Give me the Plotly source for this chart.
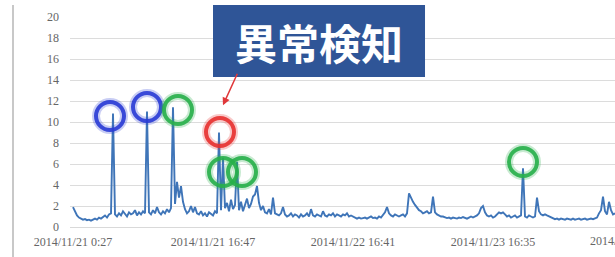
import plotly.graph_objects as go

# ---- data ----
values = [
    1.9, 1.4, 1.1, 0.9, 0.8, 0.7, 0.75, 0.65, 0.7, 0.6,
    0.7, 0.8, 0.7, 0.9, 0.8, 1.0, 1.1, 0.9, 1.2, 1.3,
    10.8, 1.2, 1.0, 1.3, 1.1, 1.5, 1.2, 1.0, 1.4, 1.2,
    1.3, 1.6, 1.1, 1.4, 1.2, 1.5, 1.3, 11.0, 1.4, 1.2,
    1.6, 1.3, 1.9, 1.4, 1.2, 1.5, 1.3, 1.7, 1.4, 1.8,
    11.4, 2.2, 4.3, 2.8, 3.9, 2.4, 1.7, 1.3, 1.5, 2.0,
    1.4, 1.9, 1.3, 1.2, 1.5, 1.1, 1.3, 1.0, 1.4, 1.2,
    1.1, 1.5, 1.3, 9.0, 1.6, 6.6, 1.8, 2.3, 1.5, 2.6,
    1.7, 2.1, 6.2, 1.6, 2.4, 1.5, 2.0, 2.7, 1.8, 2.2,
    2.9, 3.1, 3.9, 2.3, 1.6, 2.0, 1.4, 1.3, 1.7, 1.2,
    2.8, 1.3, 1.2, 1.1, 1.3, 1.9, 1.2, 1.0, 1.1, 1.3,
    1.0, 1.2, 1.1, 0.9, 1.2, 1.0, 1.1, 1.3, 1.0, 1.7,
    1.1, 1.0, 1.2, 1.1, 1.0, 1.5, 1.1, 1.0, 1.2, 1.1,
    1.3, 1.0, 1.2, 1.1, 1.0, 1.2, 1.1, 1.3, 1.0, 1.1,
    1.0, 0.9, 0.8, 0.9, 0.8, 0.85, 0.9, 0.8, 0.9, 1.0,
    0.85, 0.9, 0.8, 1.0, 0.9, 1.1, 1.4, 1.9, 1.3, 1.1,
    1.0, 1.2, 1.1, 1.0, 1.1, 1.2, 1.0, 1.3, 3.2, 2.7,
    2.4, 2.1, 1.8, 1.6, 1.5, 1.3, 1.4, 1.5, 1.3, 1.4,
    2.9, 1.4, 1.2, 1.1, 1.0, 1.0, 0.9, 0.85, 0.9, 0.8,
    0.9, 0.85, 0.8, 0.9, 0.85, 0.95, 0.9, 0.8, 0.9, 1.0,
    0.9, 1.0, 1.1, 1.3, 1.8, 2.0, 1.4, 1.1, 1.0, 1.1,
    0.9, 1.0, 1.2, 1.4, 1.3, 1.4, 1.2, 1.0, 1.1, 0.9,
    1.0, 1.1, 0.9, 1.0, 1.1, 5.6, 1.0, 0.9, 1.1, 1.0,
    0.9, 1.0, 2.8, 1.5, 1.2, 1.1, 1.2, 1.1, 1.0, 0.9,
    0.8, 0.75, 0.8, 0.7, 0.8, 0.75, 0.7, 0.8, 0.75, 0.7,
    0.8, 0.7, 0.75, 0.8, 0.7, 0.75, 0.8, 0.7, 0.75, 0.8,
    0.75, 0.8, 0.9, 1.3, 1.6, 2.9, 1.5, 1.2, 2.4, 1.6,
    1.2, 1.3,
]
sample_index = list(range(len(values)))

tick_index = [0, 70, 140, 210, 280]
tick_labels = ["2014/11/21 0:27", "2014/11/21 16:47", "2014/11/22 16:41",
               "2014/11/23 16:35", "2014/11/24 16:29"]

# anomaly markers (circle centres in sample index / value units)
anomaly_x = [18.5, 37, 52.5, 73.5, 75, 84.5, 225]
anomaly_y = [10.57, 11.43, 11.14, 9.05, 5.24, 5.24, 6.19]
anomaly_color = ["#2a3bd6", "#2a3bd6", "#27b04a", "#e8312f", "#27b04a", "#27b04a", "#27b04a"]

title_text = "異常検知"
arrow_tip = (75, 11.6)

x_min, x_max = -1.5, 271
y_min, y_max = 0, 20

fig = go.Figure()
fig.add_trace(go.Scatter(
    x=sample_index, y=values, mode="lines",
    line=dict(color="#3f75b8", width=1.9),
    hoverinfo="skip",
))

label_font = dict(family="Liberation Serif", size=12, color="#666666")

fig.update_layout(
    width=615, height=257, autosize=False,
    margin=dict(l=70, r=0, t=17, b=30, pad=0),
    plot_bgcolor="white", paper_bgcolor="white",
    showlegend=False,
    xaxis=dict(
        range=[x_min, x_max], tickvals=tick_index[:4], ticktext=tick_labels[:4],
        showgrid=False, zeroline=False, showline=True, linecolor="#d9d9d9",
        ticks="", tickfont=label_font, ticklabelstandoff=4, automargin=False,
    ),
    yaxis=dict(
        range=[y_min, y_max], dtick=2, showgrid=True, gridcolor="#dcdcdc",
        gridwidth=1, zeroline=False, showline=False, ticks="",
        tickfont=label_font, ticklabelstandoff=10, automargin=False,
    ),
)

shapes = []
for cx, cy, col in zip(anomaly_x, anomaly_y, anomaly_color):
    for r, w, op in [(14, 8, 0.25), (14, 4, 0.9)]:
        shapes.append(dict(
            type="circle", xref="x", yref="y", xsizemode="pixel", ysizemode="pixel",
            xanchor=cx, yanchor=cy, x0=-r, x1=r, y0=-r, y1=r,
            line=dict(color=col, width=w), opacity=op, fillcolor="rgba(0,0,0,0)",
        ))

# title box
shapes.append(dict(type="rect", xref="paper", yref="paper",
                   x0=0.2624, x1=0.6514, y0=0.7143, y1=1.0571,
                   fillcolor="#2f5597", line=dict(width=0), layer="above"))
# outer chart border (left edge)
shapes.append(dict(type="line", xref="paper", yref="paper",
                   x0=-0.1046, x1=-0.1046, y0=-0.15, y1=1.0571,
                   line=dict(color="#c8c8c8", width=2)))
fig.update_layout(shapes=shapes)

last_tick_paper = (tick_index[4] - x_min) / (x_max - x_min)
fig.add_annotation(x=last_tick_paper, y=-0.0667, xref="paper", yref="paper",
                   text=tick_labels[4], showarrow=False, font=label_font,
                   xanchor="center", yanchor="middle")

fig.add_annotation(x=0.4569, y=0.8857, xref="paper", yref="paper",
                   text="<b>" + title_text + "</b>", showarrow=False,
                   font=dict(family="Noto Sans CJK JP", size=42, color="white"),
                   xanchor="center", yanchor="middle")

fig.add_annotation(x=arrow_tip[0], y=arrow_tip[1], xref="x", yref="y",
                   ax=15, ay=-33, text="", showarrow=True,
                   arrowhead=2, arrowsize=1, arrowwidth=1.5, arrowcolor="#e0383a")

fig.write_html("out.html", config={"displayModeBar": False},
               post_script="document.body.style.margin='0';document.body.style.overflow='hidden';")
